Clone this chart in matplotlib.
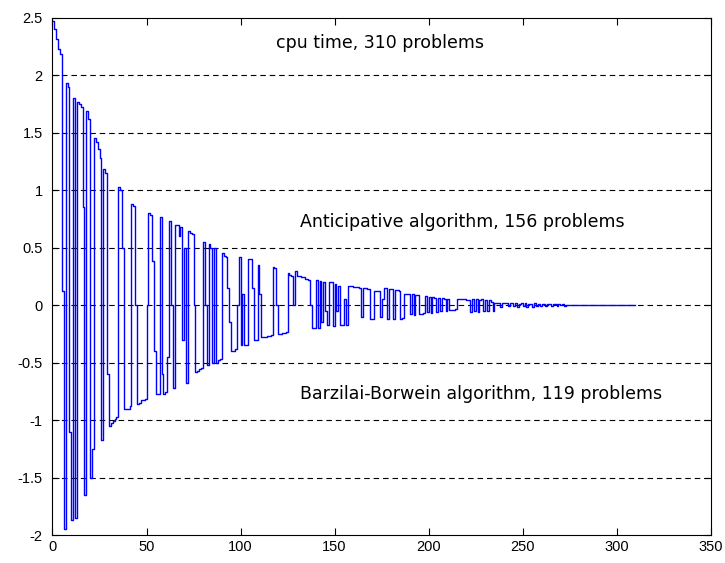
import numpy as np
import matplotlib.pyplot as plt
from matplotlib.ticker import FuncFormatter

# -----------------------------------------------
# Data: per-problem cpu time comparison
# -----------------------------------------------
diff_0_49 = [2.47, 2.40, 2.31, 2.23, 2.18, 0.12, -1.95, 1.93, 1.90, -1.10,
             -1.87, 1.80, -1.85, 1.77, 1.75, 1.72, 0.85, -1.65, 1.69, 1.62,
             -1.50, -1.25, 1.45, 1.42, 1.36, 1.28, -1.17, 1.18, 1.15, -0.60,
             -1.05, -1.03, -1.01, -0.99, -0.97, 1.03, 1.00, 0.50, -0.90, -0.90,
             -0.90, -0.88, 0.88, 0.86, 0.00, -0.86, -0.85, -0.83, -0.83, -0.82]
diff_50_99 = [0.00, 0.80, 0.78, 0.38, -0.40, -0.77, -0.77, 0.77, -0.60, -0.77,
              -0.76, -0.45, 0.73, 0.00, -0.72, 0.70, 0.70, 0.60, 0.68, -0.30,
              0.50, -0.68, 0.64, 0.63, 0.62, 0.00, -0.58, -0.57, -0.56, -0.55,
              0.55, 0.00, -0.52, 0.53, 0.50, -0.50, 0.50, -0.50, -0.48, -0.47,
              0.45, 0.43, 0.42, 0.15, -0.15, -0.40, -0.40, -0.38, 0.00, 0.42]
diff_100_149 = [-0.35, 0.10, -0.35, -0.35, 0.40, 0.40, 0.15, -0.30, -0.30, 0.35,
                0.10, -0.28, -0.28, -0.28, -0.27, -0.27, -0.26, 0.33, 0.32, 0.00,
                -0.25, -0.25, -0.24, -0.24, -0.23, 0.28, 0.26, 0.25, 0.00, 0.30,
                0.25, 0.25, 0.24, 0.24, 0.23, 0.23, 0.22, 0.00, -0.20, -0.20,
                0.22, -0.20, 0.21, -0.15, 0.20, -0.05, -0.17, 0.20, 0.20, -0.18]
diff_150_199 = [0.18, -0.05, 0.17, -0.17, -0.17, 0.05, -0.17, 0.17, 0.17, 0.17,
                0.16, 0.16, 0.16, 0.15, -0.10, 0.15, 0.15, 0.14, 0.14, -0.12,
                -0.12, 0.12, 0.12, 0.12, -0.10, 0.05, 0.15, 0.15, -0.12, 0.14,
                0.14, -0.12, 0.13, 0.13, 0.12, -0.12, -0.11, 0.10, 0.10, 0.10,
                -0.08, 0.10, -0.09, 0.09, 0.09, -0.08, -0.08, -0.07, 0.08, -0.06]
diff_200_249 = [0.07, -0.07, 0.07, 0.06, -0.06, 0.06, -0.05, 0.06, 0.05, -0.05,
                0.05, -0.04, -0.04, -0.04, -0.03, 0.05, 0.05, 0.05, 0.05, 0.05,
                0.04, 0.04, -0.06, 0.05, -0.05, 0.05, -0.06, 0.04, 0.05, -0.05,
                0.04, -0.05, 0.04, 0.03, -0.05, 0.02, 0.02, 0.02, -0.02, 0.02,
                0.02, 0.02, -0.01, 0.02, 0.02, -0.01, 0.02, -0.02, 0.01, 0.02]
diff_250_309 = [-0.01, 0.02, -0.02, 0.01, 0.01, -0.02, 0.02, -0.01, 0.01, -0.01,
                0.01, 0.01, -0.01, 0.01, 0.01, -0.01, 0.01, 0.01, -0.01, 0.01,
                0.00, 0.01, -0.01, 0.00, 0.00, 0.00, 0.00, 0.00, 0.00, 0.00,
                0.00, 0.00, 0.00, 0.00, 0.00, 0.00, 0.00, 0.00, 0.00, 0.00,
                0.00, 0.00, 0.00, 0.00, 0.00, 0.00, 0.00, 0.00, 0.00, 0.00,
                0.00, 0.00, 0.00, 0.00, 0.00, 0.00, 0.00, 0.00, 0.00, 0.00]

cpu_diff = np.array(diff_0_49 + diff_50_99 + diff_100_149 + diff_150_199
                    + diff_200_249 + diff_250_309)

x_ticks = [0, 50, 100, 150, 200, 250, 300, 350]
y_ticks = [-2, -1.5, -1, -0.5, 0, 0.5, 1, 1.5, 2, 2.5]
grid_levels = [-1.5, -1, -0.5, 0, 0.5, 1, 1.5, 2]

labels = ["cpu time, 310 problems",
          "Anticipative algorithm, 156 problems",
          "Barzilai-Borwein algorithm, 119 problems"]

# -----------------------------------------------
# Plot
# -----------------------------------------------
plt.rcParams['font.family'] = ['Liberation Sans', 'DejaVu Sans']
plt.rcParams['axes.unicode_minus'] = False

fig = plt.figure(figsize=(7.25, 5.63), dpi=100)
ax = fig.add_axes([0.0724, 0.0497, 0.908, 0.919])

for lvl in grid_levels:
    ax.axhline(lvl, color='black', lw=0.8, ls=(0, (5, 3.5)), zorder=1)

ax.plot(np.arange(len(cpu_diff)) + 0.5, cpu_diff, color='#0000ff', lw=1.0,
        drawstyle='steps-mid', zorder=2)

ax.set_xlim(0, 350)
ax.set_ylim(-2, 2.5)
ax.set_xticks(x_ticks)
ax.set_yticks(y_ticks)
ax.yaxis.set_major_formatter(FuncFormatter(lambda v, p: f"{v:g}"))
ax.tick_params(direction='in', top=True, right=True, labelsize=10.5,
               length=5, width=0.8)
ax.tick_params(axis='y', pad=7)
for s in ax.spines.values():
    s.set_linewidth(0.8)

txt = dict(fontsize=12.5, va='center', ha='left', family=['DejaVu Sans'])
ax.text(119, 2.28, labels[0], **txt)
ax.text(131.5, 0.72, labels[1], **txt)
ax.text(131.5, -0.77, labels[2], **txt)

fig.savefig("out.png", dpi=100)
